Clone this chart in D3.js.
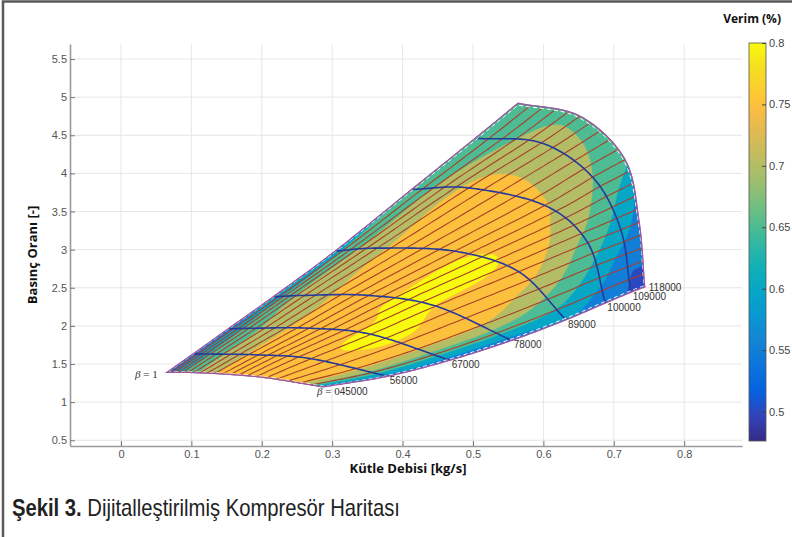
<!DOCTYPE html>
<html>
<head>
<meta charset="utf-8">
<script src="https://cdn.jsdelivr.net/npm/d3@7"></script>
<style>
  body { margin: 0; background: #fff; }
  svg { display: block; }
</style>
</head>
<body>
<script>
// Compressor map data
// rows = speed lines, columns = beta nodes (1 = surge side, 0 = choke side)
var speeds = [45000, 56000, 67000, 78000, 89000, 100000, 109000, 118000];
var betaNodes = [1, 0.75, 0.5, 0.25, 0];

var massFlow = [
  [0.065, 0.095, 0.144, 0.206, 0.287],
  [0.102, 0.135, 0.195, 0.270, 0.379],
  [0.152, 0.192, 0.267, 0.355, 0.467],
  [0.216, 0.261, 0.352, 0.447, 0.555],
  [0.304, 0.364, 0.474, 0.565, 0.632],
  [0.413, 0.494, 0.602, 0.663, 0.688],
  [0.503, 0.597, 0.670, 0.710, 0.724],
  [0.564, 0.652, 0.716, 0.736, 0.744]
];

var pressureRatio = [
  [1.39, 1.39, 1.37, 1.32, 1.20],
  [1.63, 1.63, 1.62, 1.57, 1.34],
  [1.96, 1.97, 1.97, 1.89, 1.55],
  [2.38, 2.40, 2.40, 2.26, 1.81],
  [2.98, 3.02, 2.98, 2.71, 2.08],
  [3.79, 3.81, 3.58, 3.09, 2.30],
  [4.46, 4.40, 3.95, 3.26, 2.44],
  [4.92, 4.75, 4.18, 3.36, 2.51]
];

// efficiency (Verim) at these beta values on every speed line
var effBeta = [1, 0.9, 0.75, 0.5, 0.35, 0.2, 0.1, 0];
var efficiency = [
  [0.54, 0.60, 0.665, 0.76, 0.772, 0.775, 0.765, 0.58],
  [0.56, 0.61, 0.675, 0.77, 0.782, 0.79, 0.76, 0.58],
  [0.57, 0.63, 0.69, 0.775, 0.79, 0.806, 0.755, 0.57],
  [0.60, 0.655, 0.72, 0.777, 0.806, 0.79, 0.75, 0.57],
  [0.63, 0.675, 0.74, 0.788, 0.802, 0.755, 0.69, 0.60],
  [0.655, 0.70, 0.755, 0.752, 0.72, 0.66, 0.615, 0.565],
  [0.66, 0.685, 0.72, 0.70, 0.655, 0.60, 0.56, 0.545],
  [0.665, 0.68, 0.685, 0.655, 0.60, 0.575, 0.555, 0.52]
];
var effLevels = [0.55, 0.6, 0.65, 0.7, 0.75, 0.8];

var betaLines = [0.05, 0.1, 0.15, 0.2, 0.25, 0.3, 0.35, 0.4, 0.45, 0.5,
                 0.55, 0.6, 0.65, 0.7, 0.75, 0.8, 0.85, 0.9, 0.95];

var xTicks = [0, 0.1, 0.2, 0.3, 0.4, 0.5, 0.6, 0.7, 0.8];
var yTicks = [0.5, 1, 1.5, 2, 2.5, 3, 3.5, 4, 4.5, 5, 5.5];
var cbTicks = [0.5, 0.55, 0.6, 0.65, 0.7, 0.75, 0.8];
var cbDomain = [0.476, 0.8];

// parula colormap (index out of 63)
var parulaPos = [0, 4, 8, 12, 16, 20, 24, 28, 32, 36, 40, 44, 48, 52, 54, 56, 58, 60, 63];
var parulaHex = ["#352a87", "#3243ba", "#0363e1", "#0d75dc", "#1485d4", "#0998d1",
                 "#06a7c6", "#15b1b4", "#38b99e", "#65be86", "#92bf73", "#b7bd64",
                 "#d9ba56", "#f8bb44", "#ffc337", "#fcce2e", "#f7d826", "#f5e41d", "#f9fb0e"];

var svgWidth = 792, svgHeight = 537;
var plot = { left: 70, right: 742, top: 44, bottom: 446 };

var svg = d3.select("body").append("svg")
  .attr("width", svgWidth)
  .attr("height", svgHeight);

var xScale = d3.scaleLinear().domain([-0.0724, 0.8821]).range([plot.left, plot.right]);
var yScale = d3.scaleLinear().domain([0.425, 5.697]).range([plot.bottom, plot.top]);

var parula = d3.scaleLinear()
  .domain(parulaPos.map(function(p) { return p / 63; }))
  .range(parulaHex)
  .interpolate(d3.interpolateRgb)
  .clamp(true);
var cmap = function(v) {
  return parula((v - cbDomain[0]) / (cbDomain[1] - cbDomain[0]));
};

// cubic hermite through (possibly uneven) knots
function interp(knots, vals, t) {
  var n = knots.length;
  var dir = knots[1] > knots[0] ? 1 : -1;
  var i = 0;
  while (i < n - 2 && dir * (t - knots[i + 1]) > 0) i++;
  function slope(k) {
    if (k === 0) return (vals[1] - vals[0]) / (knots[1] - knots[0]);
    if (k === n - 1) return (vals[n - 1] - vals[n - 2]) / (knots[n - 1] - knots[n - 2]);
    return (vals[k + 1] - vals[k - 1]) / (knots[k + 1] - knots[k - 1]);
  }
  var h = knots[i + 1] - knots[i];
  var s = (t - knots[i]) / h;
  var s2 = s * s, s3 = s2 * s;
  return (2 * s3 - 3 * s2 + 1) * vals[i] + (s3 - 2 * s2 + s) * h * slope(i) +
         (-2 * s3 + 3 * s2) * vals[i + 1] + (s3 - s2) * h * slope(i + 1);
}

// (speed, beta) -> [mass flow, pressure ratio]
function mapPoint(speed, beta) {
  var xs = massFlow.map(function(row) { return interp(betaNodes, row, beta); });
  var ys = pressureRatio.map(function(row) { return interp(betaNodes, row, beta); });
  return [interp(speeds, xs, speed), interp(speeds, ys, speed)];
}

var sMin = speeds[0], sMax = speeds[speeds.length - 1];

function speedLinePts(speed, bFrom, bTo) {
  return d3.range(121).map(function(k) { return mapPoint(speed, bFrom + (bTo - bFrom) * k / 120); });
}
function betaLinePts(beta, sFrom, sTo) {
  return d3.range(121).map(function(k) { return mapPoint(sFrom + (sTo - sFrom) * k / 120, beta); });
}

var line = d3.line()
  .x(function(d) { return xScale(d[0]); })
  .y(function(d) { return yScale(d[1]); });

// frame
svg.append("path")
  .attr("d", "M3,537V1.5H792")
  .attr("fill", "none")
  .attr("stroke", "#5a5a5a")
  .attr("stroke-width", 2.5);

// grid
var grid = svg.append("g").attr("stroke", "#e6e6e6").attr("stroke-width", 1);
grid.selectAll(".vgrid").data(xTicks).enter().append("line")
  .attr("x1", function(d) { return xScale(d); })
  .attr("x2", function(d) { return xScale(d); })
  .attr("y1", plot.top).attr("y2", plot.bottom);
grid.selectAll(".hgrid").data(yTicks).enter().append("line")
  .attr("x1", plot.left).attr("x2", plot.right)
  .attr("y1", function(d) { return yScale(d); })
  .attr("y2", function(d) { return yScale(d); });

// efficiency field on a (speed, beta) grid, then filled contours
var nS = 147, nB = 101;
var effGrid = new Array(nS * nB);
for (var j = 0; j < nB; j++) {
  var beta = j / (nB - 1);
  var col = efficiency.map(function(row) { return interp(effBeta, row, beta); });
  for (var i = 0; i < nS; i++) {
    var s = sMin + (sMax - sMin) * i / (nS - 1);
    effGrid[j * nS + i] = interp(speeds, col, s);
  }
}
var bandValues = [cbTicks[0]].concat(effLevels);
var contours = d3.contours().size([nS, nB]).thresholds([0].concat(effLevels))(effGrid);

var gridToPixel = d3.geoTransform({
  point: function(gx, gy) {
    var u = Math.max(0, Math.min(1, (gx - 0.5) / (nS - 1)));
    var v = Math.max(0, Math.min(1, (gy - 0.5) / (nB - 1)));
    var p = mapPoint(sMin + (sMax - sMin) * u, v);
    this.stream.point(xScale(p[0]), yScale(p[1]));
  }
});
var contourPath = d3.geoPath(gridToPixel);

svg.append("g").selectAll("path")
  .data(contours)
  .enter().append("path")
  .attr("d", contourPath)
  .attr("fill", function(d, k) { return cmap(bandValues[k]); })
  .attr("fill-rule", "evenodd")
  .attr("stroke", function(d, k) { return cmap(bandValues[k]); })
  .attr("stroke-width", 0.4);

// beta lines
svg.append("g").selectAll("path")
  .data(betaLines)
  .enter().append("path")
  .attr("d", function(b) { return line(betaLinePts(b, sMin, sMax)); })
  .attr("fill", "none")
  .attr("stroke", "#a8402a")
  .attr("stroke-width", 1.1);

// speed lines
svg.append("g").selectAll("path")
  .data(speeds.slice(1, -1))
  .enter().append("path")
  .attr("d", function(sp) { return line(speedLinePts(sp, 1, 0)); })
  .attr("fill", "none")
  .attr("stroke", "#27399a")
  .attr("stroke-width", 1.6);

// outline of the map
var outline = betaLinePts(1, sMin, sMax)
  .concat(speedLinePts(sMax, 1, 0))
  .concat(betaLinePts(0, sMax, sMin))
  .concat(speedLinePts(sMin, 0, 1));
var inner = betaLinePts(0.992, sMin + 400, sMax - 400)
  .concat(speedLinePts(sMax - 400, 0.992, 0.006))
  .concat(betaLinePts(0.006, sMax - 400, sMin + 400))
  .concat(speedLinePts(sMin + 400, 0.006, 0.992));
svg.append("path")
  .attr("d", line(inner) + "Z")
  .attr("fill", "none")
  .attr("stroke", "#ffffff")
  .attr("stroke-width", 1)
  .attr("stroke-dasharray", "4,3");
svg.append("path")
  .attr("d", line(outline) + "Z")
  .attr("fill", "none")
  .attr("stroke", "#a4579f")
  .attr("stroke-width", 1.3);

// labels at the map corners and at the choke end of each speed line
var labelFont = "'Liberation Sans', Arial, sans-serif";
var tip = mapPoint(sMin, 1), corner = mapPoint(sMin, 0);

var beta1 = svg.append("text")
  .attr("x", xScale(tip[0]) - 9)
  .attr("y", yScale(tip[1]) + 6)
  .attr("text-anchor", "end")
  .attr("fill", "#333")
  .style("font-family", "'Liberation Serif', 'DejaVu Serif', serif")
  .style("font-size", "11px");
beta1.append("tspan").style("font-style", "italic").text("β");
beta1.append("tspan").text(" = 1");

var beta0 = svg.append("text")
  .attr("x", xScale(corner[0]) - 6)
  .attr("y", yScale(corner[1]) + 8)
  .attr("fill", "#333")
  .style("font-family", "'Liberation Serif', 'DejaVu Serif', serif")
  .style("font-size", "11px");
beta0.append("tspan").style("font-style", "italic").text("β");
beta0.append("tspan").text(" = 0");
var beta0End = xScale(corner[0]) - 6 + beta0.node().getComputedTextLength();

svg.append("g").selectAll("text")
  .data(speeds)
  .enter().append("text")
  .attr("x", function(sp, k) {
    var p = mapPoint(sp, 0);
    if (k === 0) return beta0End;
    return xScale(p[0]) + (k === speeds.length - 1 ? 4 : 2);
  })
  .attr("y", function(sp, k) {
    return yScale(mapPoint(sp, 0)[1]) + (k === speeds.length - 1 ? 4 : 8);
  })
  .attr("fill", "#333")
  .style("font-family", labelFont)
  .style("font-size", "10px")
  .text(function(sp) { return sp; });

// axes
var fmt = d3.format("~g");
var xAxis = d3.axisBottom(xScale).tickValues(xTicks).tickFormat(fmt)
  .tickSizeInner(-5).tickSizeOuter(0).tickPadding(4);
var yAxis = d3.axisLeft(yScale).tickValues(yTicks).tickFormat(fmt)
  .tickSizeInner(-5).tickSizeOuter(0).tickPadding(3);

var gX = svg.append("g").attr("transform", "translate(0," + plot.bottom + ")").call(xAxis);
var gY = svg.append("g").attr("transform", "translate(" + plot.left + ",0)").call(yAxis);
[gX, gY].forEach(function(g) {
  g.attr("font-family", labelFont).attr("font-size", 11);
  g.select(".domain").attr("stroke", "#9a9a9a").attr("stroke-width", 1.6);
  g.selectAll(".tick line").attr("stroke", "#777");
  g.selectAll(".tick text").attr("fill", "#555");
});

// axis titles
var titleFont = "'Open Sans', 'Liberation Sans', sans-serif";
svg.append("text")
  .attr("x", 408)
  .attr("y", 473)
  .attr("text-anchor", "middle")
  .attr("fill", "#111")
  .style("font-family", titleFont)
  .style("font-weight", "bold")
  .style("font-size", "13px")
  .text("Kütle Debisi [kg/s]");

svg.append("text")
  .attr("transform", "translate(37,255) rotate(-90)")
  .attr("text-anchor", "middle")
  .attr("fill", "#111")
  .style("font-family", titleFont)
  .style("font-weight", "bold")
  .style("font-size", "13px")
  .text("Basınç Oranı [-]");

// colorbar
var cb = { x: 749, w: 17, top: 43, bottom: 441 };
var cbScale = d3.scaleLinear().domain(cbDomain).range([cb.bottom, cb.top]);

var grad = svg.append("defs").append("linearGradient")
  .attr("id", "cbGrad")
  .attr("x1", 0).attr("y1", 1).attr("x2", 0).attr("y2", 0);
grad.selectAll("stop")
  .data(d3.range(0, 1.0001, 0.02))
  .enter().append("stop")
  .attr("offset", function(t) { return t; })
  .attr("stop-color", function(t) { return parula(t); });

svg.append("rect")
  .attr("x", cb.x).attr("y", cb.top)
  .attr("width", cb.w).attr("height", cb.bottom - cb.top)
  .attr("fill", "url(#cbGrad)")
  .attr("stroke", "#555")
  .attr("stroke-width", 0.8);

var cbAxis = d3.axisRight(cbScale).tickValues(cbTicks).tickFormat(fmt)
  .tickSizeInner(-4).tickSizeOuter(0).tickPadding(3);
var gCb = svg.append("g").attr("transform", "translate(" + (cb.x + cb.w) + ",0)").call(cbAxis);
gCb.attr("font-family", labelFont).attr("font-size", 11);
gCb.select(".domain").remove();
gCb.selectAll(".tick line").attr("stroke", "#444");
gCb.selectAll(".tick text").attr("fill", "#444");

svg.append("text")
  .attr("x", 781)
  .attr("y", 23)
  .attr("text-anchor", "end")
  .attr("fill", "#111")
  .style("font-family", titleFont)
  .style("font-weight", "bold")
  .style("font-size", "12px")
  .text("Verim (%)");

// caption
var caption = svg.append("text")
  .attr("transform", "translate(12,516) scale(0.88,1)")
  .attr("fill", "#222")
  .style("font-family", "'Liberation Sans', Arial, sans-serif")
  .style("font-size", "23px");
caption.append("tspan").style("font-weight", "bold").text("Şekil 3.");
caption.append("tspan").text(" Dijitalleştirilmiş Kompresör Haritası");
</script>
</body>
</html>
